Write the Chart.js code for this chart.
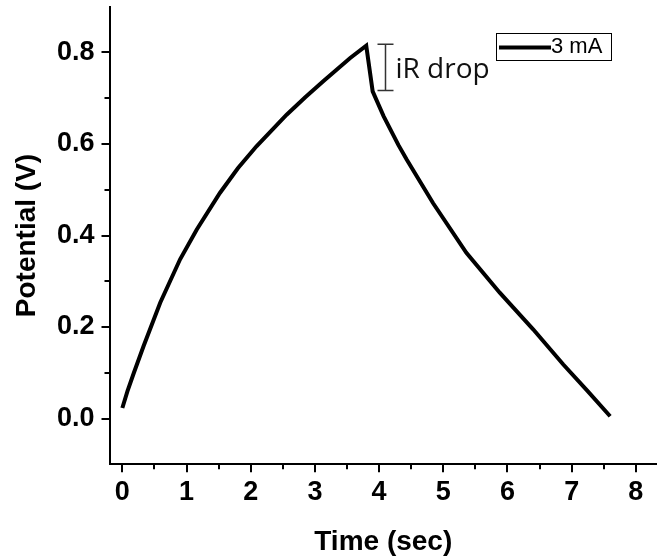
<!DOCTYPE html>
<html>
<head>
<meta charset="utf-8">
<script src="https://cdn.jsdelivr.net/npm/chart.js@4"></script>
<style>
  html, body { margin: 0; padding: 0; background: #fff; }
  #wrap { width: 657px; height: 556px; position: relative; }
</style>
</head>
<body>
<div id="wrap"><canvas id="gcdChart"></canvas></div>
<script>
// charge / discharge curve
const timeSec = [0.00, 0.08, 0.18, 0.33, 0.59, 0.90, 1.16, 1.52, 1.80, 2.09, 2.56, 2.85, 3.13, 3.55, 3.80,
                 3.90, 4.07, 4.30, 4.43, 4.84, 5.36, 5.88, 6.40, 6.87, 7.25, 7.60];
const potential = [0.023, 0.060, 0.100, 0.158, 0.253, 0.348, 0.413, 0.493, 0.547, 0.595, 0.664, 0.702, 0.737, 0.788, 0.815,
                   0.715, 0.661, 0.598, 0.566, 0.471, 0.362, 0.275, 0.195, 0.118, 0.060, 0.005];
const seriesLabel = "3 mA";

const xTicks = [0, 1, 2, 3, 4, 5, 6, 7, 8];
const xMinor = [0.5, 1.5, 2.5, 3.5, 4.5, 5.5, 6.5, 7.5];
const yTicks = [0.0, 0.2, 0.4, 0.6, 0.8];
const yMinor = [0.1, 0.3, 0.5, 0.7];

const points = timeSec.map((t, i) => ({ x: t, y: potential[i] }));

// minor ticks, legend box and the iR drop mark
const extras = {
  id: 'extras',
  afterDraw(chart) {
    const { ctx, chartArea, scales } = chart;
    const xs = scales.x, ys = scales.y;
    ctx.save();
    ctx.strokeStyle = '#000';
    ctx.lineWidth = 2;
    ctx.beginPath();
    xMinor.forEach(v => {
      const px = Math.round(xs.getPixelForValue(v));
      ctx.moveTo(px, chartArea.bottom);
      ctx.lineTo(px, chartArea.bottom + 5);
    });
    yMinor.forEach(v => {
      const py = Math.round(ys.getPixelForValue(v));
      ctx.moveTo(chartArea.left - 5, py);
      ctx.lineTo(chartArea.left, py);
    });
    ctx.stroke();

    // iR drop bracket
    const bx = xs.getPixelForValue(4.1);
    const bTop = ys.getPixelForValue(0.818);
    const bBot = ys.getPixelForValue(0.717);
    ctx.strokeStyle = '#333';
    ctx.lineWidth = 1.5;
    ctx.beginPath();
    ctx.moveTo(bx, bTop); ctx.lineTo(bx, bBot);
    ctx.moveTo(bx - 8, bTop); ctx.lineTo(bx + 8, bTop);
    ctx.moveTo(bx - 8, bBot); ctx.lineTo(bx + 8, bBot);
    ctx.stroke();
    ctx.fillStyle = '#111';
    ctx.font = '28px "Open Sans"';
    ctx.textBaseline = 'alphabetic';
    ctx.fillText('iR drop', bx + 10, ys.getPixelForValue(0.745));

    // legend
    const lx = 496, ly = 33, lw = 115, lh = 27;
    ctx.strokeStyle = '#000';
    ctx.lineWidth = 1;
    ctx.strokeRect(lx + 0.5, ly + 0.5, lw, lh);
    ctx.lineWidth = 4;
    ctx.beginPath();
    ctx.moveTo(lx + 3, ly + 14.5);
    ctx.lineTo(lx + 55, ly + 14.5);
    ctx.stroke();
    ctx.fillStyle = '#000';
    ctx.font = '22px "Liberation Sans", Arial';
    ctx.textBaseline = 'middle';
    ctx.fillText(chart.data.datasets[0].label, lx + 55, ly + 14);
    ctx.restore();
  }
};

const tickFont = { family: '"Liberation Sans", Arial', size: 27, weight: 'bold' };
const titleFont = { family: '"Liberation Sans", Arial', size: 28, weight: 'bold', lineHeight: 1 };

new Chart(document.getElementById('gcdChart'), {
  type: 'line',
  data: {
    datasets: [{
      label: seriesLabel,
      data: points,
      borderColor: '#000',
      borderWidth: 4,
      pointRadius: 0,
      tension: 0,
      fill: false
    }]
  },
  options: {
    responsive: true,
    maintainAspectRatio: false,
    animation: false,
    layout: { padding: { top: 6.75, right: 0, left: 0, bottom: 0 } },
    plugins: { legend: { display: false }, tooltip: { enabled: false } },
    scales: {
      x: {
        type: 'linear',
        min: -0.2,
        max: 8.33,
        afterBuildTicks: s => { s.ticks = xTicks.map(v => ({ value: v })); },
        afterFit: s => { s.height = 91.75; s.paddingLeft = 0; s.paddingRight = 0; },
        border: { display: true, color: '#000', width: 2 },
        grid: { display: true, drawOnChartArea: false, color: '#000', lineWidth: 2, tickLength: 8 },
        ticks: { color: '#000', font: tickFont, padding: 4, maxRotation: 0 },
        title: { display: true, text: 'Time (sec)', color: '#000', font: titleFont, padding: { top: 0, bottom: 0 } }
      },
      y: {
        min: -0.1,
        max: 0.9,
        afterBuildTicks: s => { s.ticks = yTicks.map(v => ({ value: v })); },
        afterFit: s => { s.width = 109.5; s.paddingTop = 0; s.paddingBottom = 0; },
        border: { display: true, color: '#000', width: 2 },
        grid: { display: true, drawOnChartArea: false, color: '#000', lineWidth: 2, tickLength: 8 },
        ticks: { color: '#000', font: tickFont, padding: 7, callback: v => v.toFixed(1) },
        title: { display: true, text: 'Potential (V)', color: '#000', font: titleFont, padding: { top: 13, bottom: 0 } }
      }
    }
  },
  plugins: [extras]
});
</script>
</body>
</html>
